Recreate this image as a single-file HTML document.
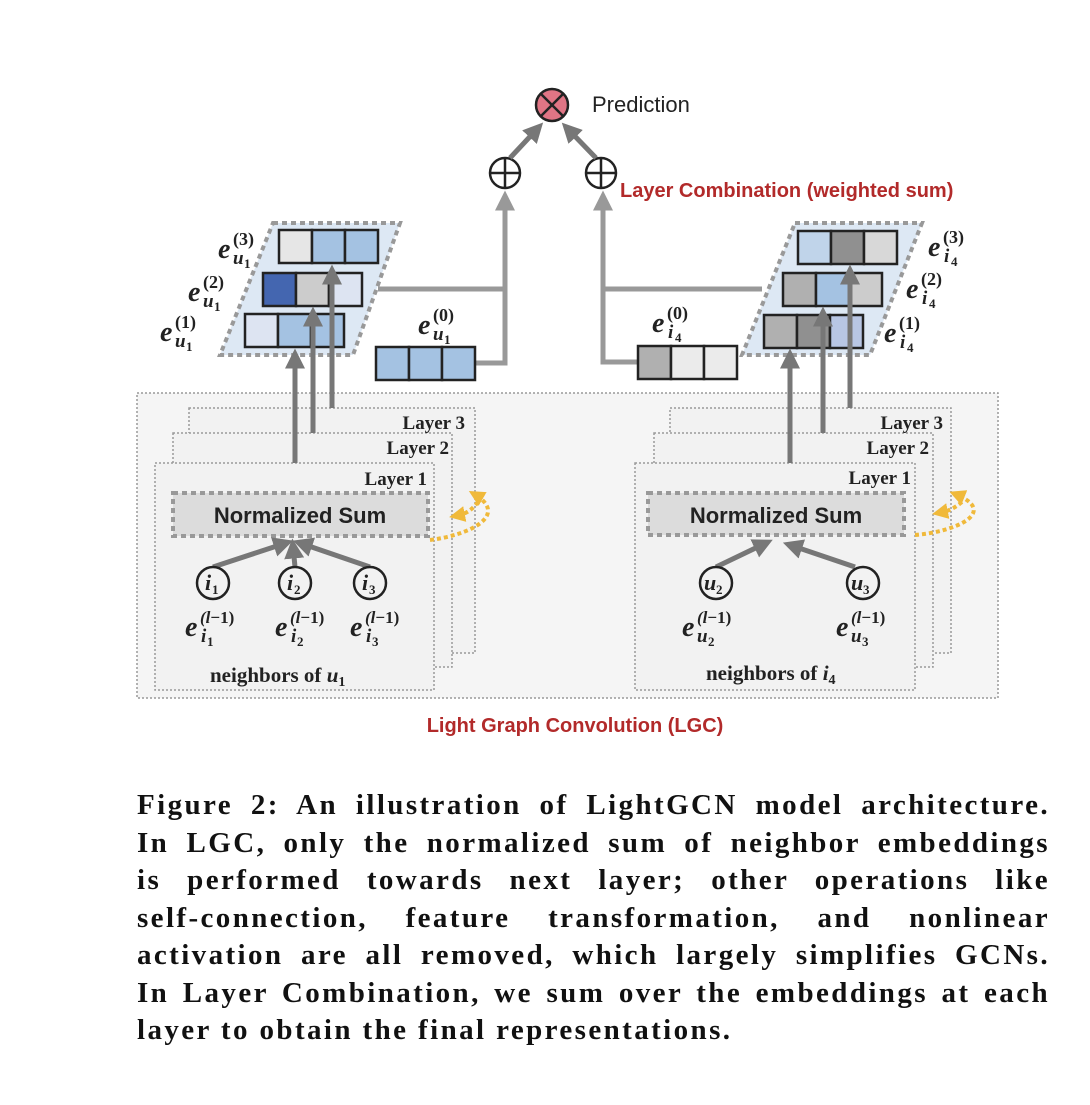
<!DOCTYPE html>
<html><head><meta charset="utf-8">
<style>
html,body{margin:0;padding:0;background:#fff;}
body{width:1090px;height:1105px;position:relative;overflow:hidden;}
svg{position:absolute;left:0;top:0;}
.cap{position:absolute;left:137px;width:913px;font-family:"Liberation Serif",serif;font-weight:bold;font-size:29px;letter-spacing:2.4px;line-height:37.5px;top:787px;color:#111;}
.cap div{text-align:justify;text-align-last:justify;white-space:nowrap;}
.cap div.last{text-align-last:left;}
</style></head><body>
<svg width="1090" height="780" viewBox="0 0 1090 780" xmlns="http://www.w3.org/2000/svg">
<defs>
<marker id="ah" markerWidth="4" markerHeight="4" refX="2.5" refY="2" orient="auto" markerUnits="strokeWidth">
<path d="M0,0 L4,2 L0,4 z" fill="#777"/></marker>
<marker id="ahl" markerWidth="4" markerHeight="4" refX="2.5" refY="2" orient="auto" markerUnits="strokeWidth">
<path d="M0,0 L4,2 L0,4 z" fill="#999"/></marker>
<marker id="ay" markerWidth="4" markerHeight="4" refX="2.5" refY="2" orient="auto" markerUnits="strokeWidth">
<path d="M0,0 L4,2 L0,4 z" fill="#f0b93a"/></marker>
</defs>
<!-- Prediction -->
<circle cx="552" cy="105" r="16" fill="#e07585" stroke="#222" stroke-width="2.5"/>
<line x1="541" y1="94" x2="563" y2="116" stroke="#222" stroke-width="2.5"/>
<line x1="563" y1="94" x2="541" y2="116" stroke="#222" stroke-width="2.5"/>
<text x="592" y="112" font-family="Liberation Sans,sans-serif" font-size="22" fill="#222">Prediction</text>
<g stroke="#222" stroke-width="2.5" fill="#fff">
<circle cx="505" cy="173" r="15"/><circle cx="601" cy="173" r="15"/></g>
<g stroke="#222" stroke-width="2.5">
<line x1="505" y1="158" x2="505" y2="188"/><line x1="490" y1="173" x2="520" y2="173"/>
<line x1="601" y1="158" x2="601" y2="188"/><line x1="586" y1="173" x2="616" y2="173"/></g>
<g stroke="#777" stroke-width="5" fill="none">
<line x1="510" y1="158" x2="538" y2="128" marker-end="url(#ah)"/>
<line x1="596" y1="158" x2="567" y2="128" marker-end="url(#ah)"/></g>
<text x="620" y="197" font-family="Liberation Sans,sans-serif" font-weight="bold" font-size="20" fill="#b22a2a">Layer Combination (weighted sum)</text>
<g stroke="#999" stroke-width="5" fill="none">
<polyline points="476,363 505,363 505,198" marker-end="url(#ahl)"/>
<line x1="378" y1="289" x2="505" y2="289"/>
<polyline points="638,362 603,362 603,198" marker-end="url(#ahl)"/>
<line x1="762" y1="289" x2="603" y2="289"/></g>
<polygon points="273,223 400,223 353,355 220,355" fill="#dde8f4" stroke="#999" stroke-width="4" stroke-dasharray="5,4"/>
<g stroke="#222" stroke-width="2.5">
<rect x="279" y="230" width="33" height="33" fill="#e6e6e6"/><rect x="312" y="230" width="33" height="33" fill="#a4c2e2"/><rect x="345" y="230" width="33" height="33" fill="#a4c2e2"/>
<rect x="263" y="273" width="33" height="33" fill="#4466b0"/><rect x="296" y="273" width="33" height="33" fill="#cccccc"/><rect x="329" y="273" width="33" height="33" fill="#dde4f2"/>
<rect x="245" y="314" width="33" height="33" fill="#dde4f2"/><rect x="278" y="314" width="33" height="33" fill="#a4c2e2"/><rect x="311" y="314" width="33" height="33" fill="#a4c2e2"/>
<rect x="376" y="347" width="33" height="33" fill="#a4c2e2"/><rect x="409" y="347" width="33" height="33" fill="#a4c2e2"/><rect x="442" y="347" width="33" height="33" fill="#a4c2e2"/>
</g>
<polygon points="795,223 922,223 870,355 742,355" fill="#dde8f4" stroke="#999" stroke-width="4" stroke-dasharray="5,4"/>
<g stroke="#222" stroke-width="2.5">
<rect x="798" y="231" width="33" height="33" fill="#c0d4ea"/><rect x="831" y="231" width="33" height="33" fill="#909090"/><rect x="864" y="231" width="33" height="33" fill="#d8d8d8"/>
<rect x="783" y="273" width="33" height="33" fill="#b0b0b0"/><rect x="816" y="273" width="33" height="33" fill="#a4c2e2"/><rect x="849" y="273" width="33" height="33" fill="#cccccc"/>
<rect x="764" y="315" width="33" height="33" fill="#b0b0b0"/><rect x="797" y="315" width="33" height="33" fill="#909090"/><rect x="830" y="315" width="33" height="33" fill="#b8c6e4"/>
<rect x="638" y="346" width="33" height="33" fill="#b0b0b0"/><rect x="671" y="346" width="33" height="33" fill="#ebebeb"/><rect x="704" y="346" width="33" height="33" fill="#ebebeb"/>
</g>
<g font-family="Liberation Serif,serif" font-weight="bold" font-style="italic" fill="#222">
<g transform="translate(218,258)"><text font-size="28">e</text><text x="15" y="-13" font-size="18" font-style="normal">(3)</text><text x="15" y="6" font-size="19">u</text><text x="26" y="10" font-size="13" font-style="normal">1</text></g>
<g transform="translate(188,301)"><text font-size="28">e</text><text x="15" y="-13" font-size="18" font-style="normal">(2)</text><text x="15" y="6" font-size="19">u</text><text x="26" y="10" font-size="13" font-style="normal">1</text></g>
<g transform="translate(160,341)"><text font-size="28">e</text><text x="15" y="-13" font-size="18" font-style="normal">(1)</text><text x="15" y="6" font-size="19">u</text><text x="26" y="10" font-size="13" font-style="normal">1</text></g>
<g transform="translate(418,334)"><text font-size="28">e</text><text x="15" y="-13" font-size="18" font-style="normal">(0)</text><text x="15" y="6" font-size="19">u</text><text x="26" y="10" font-size="13" font-style="normal">1</text></g>
<g transform="translate(928,256)"><text font-size="28">e</text><text x="15" y="-13" font-size="18" font-style="normal">(3)</text><text x="16" y="6" font-size="19">i</text><text x="23" y="10" font-size="13" font-style="normal">4</text></g>
<g transform="translate(906,298)"><text font-size="28">e</text><text x="15" y="-13" font-size="18" font-style="normal">(2)</text><text x="16" y="6" font-size="19">i</text><text x="23" y="10" font-size="13" font-style="normal">4</text></g>
<g transform="translate(884,342)"><text font-size="28">e</text><text x="15" y="-13" font-size="18" font-style="normal">(1)</text><text x="16" y="6" font-size="19">i</text><text x="23" y="10" font-size="13" font-style="normal">4</text></g>
<g transform="translate(652,332)"><text font-size="28">e</text><text x="15" y="-13" font-size="18" font-style="normal">(0)</text><text x="16" y="6" font-size="19">i</text><text x="23" y="10" font-size="13" font-style="normal">4</text></g>
</g>
<rect x="137" y="393" width="861" height="305" fill="#f5f5f5" stroke="#999" stroke-width="1.5" stroke-dasharray="2,2"/>
<text x="575" y="732" text-anchor="middle" font-family="Liberation Sans,sans-serif" font-weight="bold" font-size="20" fill="#b22a2a">Light Graph Convolution (LGC)</text>
<g fill="#f2f2f2" stroke="#999" stroke-width="1.5" stroke-dasharray="2,2">
<rect x="189" y="408" width="286" height="245"/>
<rect x="173" y="433" width="279" height="234"/>
<rect x="155" y="463" width="279" height="227"/>
<rect x="670" y="408" width="281" height="245"/>
<rect x="654" y="433" width="279" height="234"/>
<rect x="635" y="463" width="280" height="227"/>
</g>
<g font-family="Liberation Serif,serif" font-weight="bold" font-size="19" fill="#222" text-anchor="end">
<text x="465" y="429">Layer 3</text><text x="449" y="454">Layer 2</text><text x="427" y="485">Layer 1</text>
<text x="943" y="429">Layer 3</text><text x="929" y="454">Layer 2</text><text x="911" y="484">Layer 1</text>
</g>
<g stroke="#777" stroke-width="5" fill="none">
<line x1="295" y1="463" x2="295" y2="356" marker-end="url(#ah)"/>
<line x1="313" y1="433" x2="313" y2="314" marker-end="url(#ah)"/>
<line x1="332" y1="408" x2="332" y2="272" marker-end="url(#ah)"/>
<line x1="790" y1="463" x2="790" y2="356" marker-end="url(#ah)"/>
<line x1="823" y1="433" x2="823" y2="314" marker-end="url(#ah)"/>
<line x1="850" y1="408" x2="850" y2="272" marker-end="url(#ah)"/>
</g>
<g fill="#dcdcdc" stroke="#999" stroke-width="4" stroke-dasharray="5,4">
<rect x="173" y="493" width="255" height="43"/><rect x="648" y="493" width="256" height="42"/></g>
<g font-family="Liberation Sans,sans-serif" font-weight="bold" font-size="22" fill="#222" text-anchor="middle">
<text x="300" y="523">Normalized Sum</text><text x="776" y="523">Normalized Sum</text></g>
<g stroke="#777" stroke-width="5" fill="none">
<line x1="213" y1="567" x2="286" y2="543" marker-end="url(#ah)"/>
<line x1="295" y1="567" x2="293" y2="546" marker-end="url(#ah)"/>
<line x1="370" y1="567" x2="300" y2="543" marker-end="url(#ah)"/>
<line x1="716" y1="567" x2="766" y2="543" marker-end="url(#ah)"/>
<line x1="855" y1="567" x2="790" y2="545" marker-end="url(#ah)"/>
</g>
<g fill="#f2f2f2" stroke="#222" stroke-width="2.5">
<circle cx="213" cy="583" r="16"/><circle cx="295" cy="583" r="16"/><circle cx="370" cy="583" r="16"/>
<circle cx="716" cy="583" r="16"/><circle cx="863" cy="583" r="16"/></g>
<g font-family="Liberation Serif,serif" font-weight="bold" font-style="italic" fill="#222">
<text x="205" y="590" font-size="22">i</text><text x="212" y="594" font-size="13" font-style="normal">1</text>
<text x="287" y="590" font-size="22">i</text><text x="294" y="594" font-size="13" font-style="normal">2</text>
<text x="362" y="590" font-size="22">i</text><text x="369" y="594" font-size="13" font-style="normal">3</text>
<text x="704" y="590" font-size="22">u</text><text x="716" y="594" font-size="13" font-style="normal">2</text>
<text x="851" y="590" font-size="22">u</text><text x="863" y="594" font-size="13" font-style="normal">3</text>
<g transform="translate(185,636)"><text font-size="28">e</text><text x="15" y="-13" font-size="17">(l<tspan font-style="normal">−1)</tspan></text><text x="16" y="6" font-size="19">i</text><text x="22" y="10" font-size="13" font-style="normal">1</text></g>
<g transform="translate(275,636)"><text font-size="28">e</text><text x="15" y="-13" font-size="17">(l<tspan font-style="normal">−1)</tspan></text><text x="16" y="6" font-size="19">i</text><text x="22" y="10" font-size="13" font-style="normal">2</text></g>
<g transform="translate(350,636)"><text font-size="28">e</text><text x="15" y="-13" font-size="17">(l<tspan font-style="normal">−1)</tspan></text><text x="16" y="6" font-size="19">i</text><text x="22" y="10" font-size="13" font-style="normal">3</text></g>
<g transform="translate(682,636)"><text font-size="28">e</text><text x="15" y="-13" font-size="17">(l<tspan font-style="normal">−1)</tspan></text><text x="15" y="6" font-size="19">u</text><text x="26" y="10" font-size="13" font-style="normal">2</text></g>
<g transform="translate(836,636)"><text font-size="28">e</text><text x="15" y="-13" font-size="17">(l<tspan font-style="normal">−1)</tspan></text><text x="15" y="6" font-size="19">u</text><text x="26" y="10" font-size="13" font-style="normal">3</text></g>
</g>
<g font-family="Liberation Serif,serif" font-weight="bold" font-size="21" fill="#222">
<text x="210" y="682">neighbors of <tspan font-style="italic">u</tspan><tspan font-size="14" dy="4">1</tspan></text>
<text x="706" y="680">neighbors of <tspan font-style="italic">i</tspan><tspan font-size="14" dy="4">4</tspan></text>
</g>
<g stroke="#f0b93a" stroke-width="4" stroke-dasharray="4,3" fill="none">
<path d="M430,540 C470,535 510,515 474,494" marker-end="url(#ay)"/>
<path d="M478,502 C470,512 465,514 455,516" marker-end="url(#ay)"/>
<path d="M915,535 C955,532 1000,512 955,494" marker-end="url(#ay)"/>
<path d="M962,502 C952,510 948,511 938,513" marker-end="url(#ay)"/>
</g>
</svg>
<div class="cap">
<div>Figure 2: An illustration of LightGCN model architecture.</div>
<div>In LGC, only the normalized sum of neighbor embeddings</div>
<div>is performed towards next layer; other operations like</div>
<div>self-connection, feature transformation, and nonlinear</div>
<div>activation are all removed, which largely simplifies GCNs.</div>
<div>In Layer Combination, we sum over the embeddings at each</div>
<div class="last">layer to obtain the final representations.</div>
</div>
</body></html>
